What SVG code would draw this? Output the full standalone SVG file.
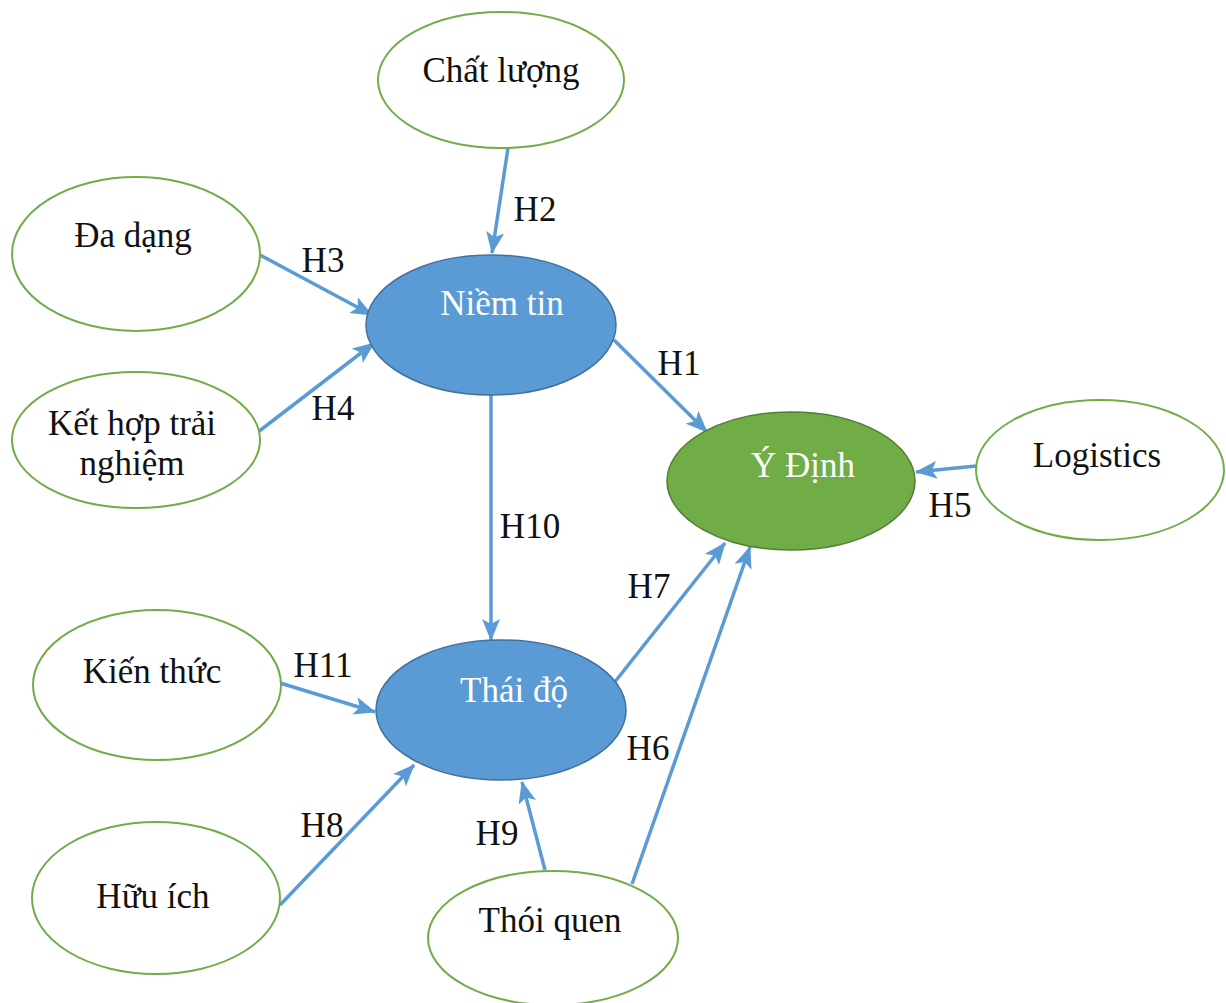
<svg xmlns="http://www.w3.org/2000/svg" width="1226" height="1003" viewBox="0 0 1226 1003">
  <style>
    .bg { fill: #ffffff; }
    .outer { fill: #ffffff; stroke: #70AD47; stroke-width: 2; }
    .core { fill: #5B9BD5; stroke: #41719C; stroke-width: 1.5; }
    .goal { fill: #70AD47; stroke: #507E32; stroke-width: 1.5; }
    text { font-family: "Liberation Serif", "Times New Roman", serif; font-size: 35px; text-anchor: middle; }
    .dark { fill: #111111; }
    .light { fill: #ffffff; }
    .edge { stroke: #5B9BD5; stroke-width: 3.5; fill: none; marker-end: url(#arrow); }
    .lbl { fill: #111111; }
  </style>
  <defs>
    <marker id="arrow" markerUnits="userSpaceOnUse" markerWidth="22" markerHeight="18" viewBox="0 0 22 18" refX="21" refY="9" orient="auto">
      <path d="M0,0 L22,9 L0,18 L5,9 Z" fill="#5B9BD5"/>
    </marker>
  </defs>
  <rect class="bg" x="0" y="0" width="1226" height="1003"/>

  <g id="connectors">
    <line class="edge" x1="508" y1="148" x2="492" y2="253"/>
    <line class="edge" x1="260" y1="255" x2="372" y2="315"/>
    <line class="edge" x1="258" y1="432" x2="374" y2="343"/>
    <line class="edge" x1="614" y1="340" x2="707" y2="432"/>
    <line class="edge" x1="491" y1="395" x2="491" y2="640"/>
    <line class="edge" x1="976" y1="466" x2="916" y2="472"/>
    <line class="edge" x1="614" y1="683" x2="725" y2="543"/>
    <line class="edge" x1="632" y1="884" x2="750" y2="547"/>
    <line class="edge" x1="280" y1="683" x2="375" y2="712"/>
    <line class="edge" x1="280" y1="905" x2="414" y2="765"/>
    <line class="edge" x1="545" y1="870" x2="522" y2="782"/>
    <g id="edge-labels">
      <text class="lbl" x="535" y="221">H2</text>
      <text class="lbl" x="323" y="272">H3</text>
      <text class="lbl" x="679" y="375">H1</text>
      <text class="lbl" x="333" y="420">H4</text>
      <text class="lbl" x="530" y="538">H10</text>
      <text class="lbl" x="950" y="517">H5</text>
      <text class="lbl" x="649" y="598">H7</text>
      <text class="lbl" x="323" y="677">H11</text>
      <text class="lbl" x="648" y="760">H6</text>
      <text class="lbl" x="322" y="837">H8</text>
      <text class="lbl" x="497" y="845">H9</text>
    </g>
  </g>

  <g id="chat-luong">
    <ellipse class="outer" cx="501" cy="80" rx="123" ry="68"/>
    <text class="dark" x="501" y="82">Chất lượng</text>
  </g>
  <g id="da-dang">
    <ellipse class="outer" cx="136" cy="254" rx="124" ry="77"/>
    <text class="dark" x="133" y="247">Đa dạng</text>
  </g>
  <g id="ket-hop-trai-nghiem">
    <ellipse class="outer" cx="136" cy="440" rx="124" ry="68"/>
    <text class="dark" x="132" y="435">Kết hợp trải</text>
    <text class="dark" x="132" y="475">nghiệm</text>
  </g>
  <g id="niem-tin">
    <ellipse class="core" cx="491" cy="325" rx="125" ry="70"/>
    <text class="light" x="502" y="315">Niềm tin</text>
  </g>
  <g id="y-dinh">
    <ellipse class="goal" cx="791" cy="481" rx="124" ry="69"/>
    <text class="light" x="803" y="477">Ý Định</text>
  </g>
  <g id="logistics">
    <ellipse class="outer" cx="1100" cy="470" rx="124" ry="70"/>
    <text class="dark" x="1097" y="467">Logistics</text>
  </g>
  <g id="kien-thuc">
    <ellipse class="outer" cx="157" cy="685" rx="124" ry="75"/>
    <text class="dark" x="152" y="683">Kiến thức</text>
  </g>
  <g id="thai-do">
    <ellipse class="core" cx="501" cy="710" rx="125" ry="70"/>
    <text class="light" x="514" y="702">Thái độ</text>
  </g>
  <g id="huu-ich">
    <ellipse class="outer" cx="156" cy="898" rx="124" ry="76"/>
    <text class="dark" x="153" y="908">Hữu ích</text>
  </g>
  <g id="thoi-quen">
    <ellipse class="outer" cx="553" cy="938" rx="125" ry="67"/>
    <text class="dark" x="550" y="932">Thói quen</text>
  </g>
</svg>
